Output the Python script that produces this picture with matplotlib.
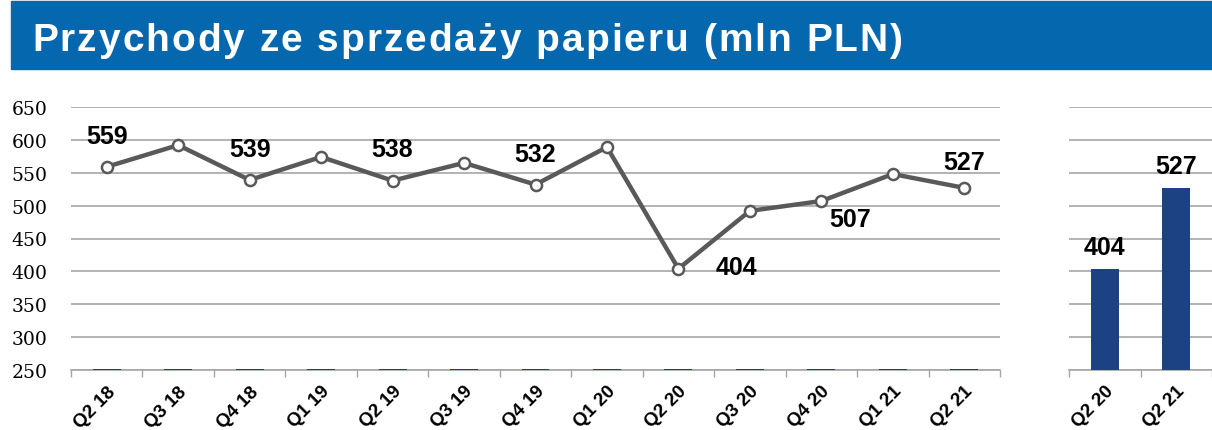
import matplotlib as mpl
import matplotlib.pyplot as plt
from matplotlib.patches import Rectangle

mpl.use("Agg")

TITLE = "Przychody ze sprzedaży papieru (mln PLN)"

quarters = ["Q2 18", "Q3 18", "Q4 18", "Q1 19", "Q2 19", "Q3 19", "Q4 19",
            "Q1 20", "Q2 20", "Q3 20", "Q4 20", "Q1 21", "Q2 21"]
revenue = [559, 592, 539, 574, 538, 565, 532, 589, 404, 492, 507, 548, 527]
# tiny bars sitting on the axis floor
floor_bars = [252] * len(quarters)
labelled = ["Q2 18", "Q4 18", "Q2 19", "Q4 19", "Q2 20", "Q4 20", "Q2 21"]

cmp_quarters = ["Q2 20", "Q2 21"]
cmp_values = [404, 527]

YMIN, YMAX = 250, 650
BLUE = "#1c4283"
LINE = "#595959"
GRID = "#a6a6a6"
BANNER = "#0568ae"

W, H = 1212, 431
DPI = 100.0

# label offsets in pixels (dx, dy) from the marker
label_offsets = {
    "Q2 18": (0, 31), "Q4 18": (0, 31), "Q2 19": (0, 32), "Q4 19": (0, 31),
    "Q2 20": (58, 2), "Q4 20": (29, -18), "Q2 21": (0, 26),
}


def style_axis(ax, labels):
    ax.set_ylim(YMIN, YMAX)
    ax.set_xlim(-0.5, len(labels) - 0.5)
    ax.set_yticks(range(YMIN, YMAX + 1, 50))
    ax.grid(axis="y", color=GRID, linewidth=1.2)
    ax.set_axisbelow(True)
    for s in ["top", "right", "left"]:
        ax.spines[s].set_visible(False)
    ax.spines["bottom"].set_color(GRID)
    ax.spines["bottom"].set_linewidth(1.2)
    ax.set_xticks([i - 0.5 for i in range(len(labels) + 1)], minor=False)
    ax.set_xticklabels([])
    ax.tick_params(axis="x", which="major", length=5, color=GRID, width=1)
    ax.set_xticks(range(len(labels)), minor=True)
    ax.set_xticklabels(labels, minor=True, rotation=45, ha="right",
                       rotation_mode="anchor", fontsize=13.5,
                       fontweight="bold", family="Liberation Sans")
    for lab in ax.get_xticklabels(minor=True):
        lab.set_transform(lab.get_transform()
                          + mpl.transforms.ScaledTranslation(5 / DPI, 0, ax.figure.dpi_scale_trans))
    ax.tick_params(axis="x", which="minor", length=0, pad=9)
    ax.tick_params(axis="y", length=0)


def draw_tracked_text(fig, x, y, text, tracking, **kw):
    renderer = fig.canvas.get_renderer()
    cx = x
    for ch in text:
        t = fig.text(cx / W, 1 - y / H, ch, **kw)
        w = t.get_window_extent(renderer).width
        if ch == " ":
            w = kw.get("fontsize", 10) * DPI / 72 * 0.278
        cx += w + tracking


fig = plt.figure(figsize=(W / DPI, H / DPI), dpi=DPI)

fig.patches.append(Rectangle((11 / W, 1 - 70 / H), (W - 11) / W, 68 / H,
                             transform=fig.transFigure, color=BANNER, zorder=0))
draw_tracked_text(fig, 32, 51, TITLE, 2.0, color="white", fontsize=28,
                  fontweight="bold", family="Liberation Sans", va="baseline")

ax = fig.add_axes([71 / W, 1 - 371 / H, (1000 - 71) / W, 263 / H])
style_axis(ax, quarters)
x = list(range(len(quarters)))
ax.bar(x, [v - YMIN for v in floor_bars], bottom=YMIN, width=0.39,
       color=BLUE, zorder=3)
ax.plot(x, revenue, color=LINE, linewidth=3.2, marker="o", markersize=8,
        markerfacecolor="white", markeredgecolor=LINE, markeredgewidth=1.8,
        zorder=5)
for q in labelled:
    i = quarters.index(q)
    dx, dy = label_offsets[q]
    ax.annotate(str(revenue[i]), (i, revenue[i]),
                xytext=(dx * 72 / DPI, dy * 72 / DPI), textcoords="offset points",
                ha="center", va="center", fontsize=18, fontweight="bold",
                family="Liberation Sans", zorder=6)
for lab in ax.get_yticklabels():
    lab.set_family("DejaVu Serif")
    lab.set_fontsize(13.5)
ax.tick_params(axis="y", pad=17)

ax2 = fig.add_axes([1069 / W, 1 - 371 / H, 143 / W, 263 / H])
style_axis(ax2, cmp_quarters)
ax2.set_yticklabels([])
ax2.bar(range(len(cmp_values)), cmp_values, width=0.39, color=BLUE, zorder=3)
for i, v in enumerate(cmp_values):
    ax2.annotate(str(v), (i, v), xytext=(0, 22 * 72 / DPI),
                 textcoords="offset points", ha="center", va="center",
                 fontsize=18, fontweight="bold", family="Liberation Sans")

fig.savefig("out.png", dpi=DPI)
